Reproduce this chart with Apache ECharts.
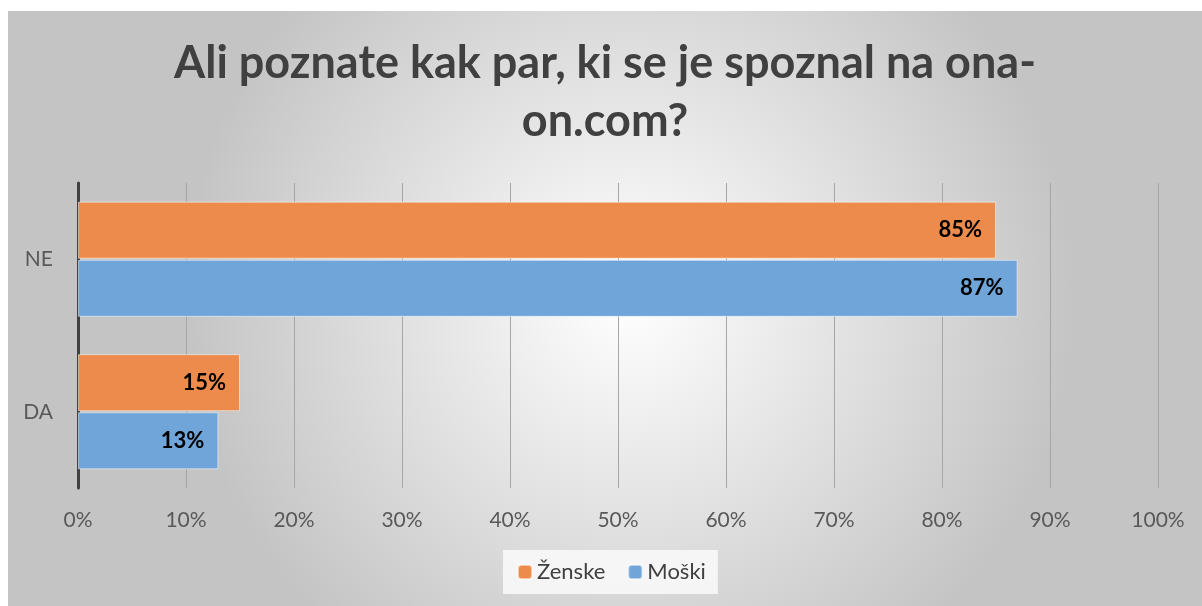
<!DOCTYPE html>
<html>
<head>
<meta charset="utf-8">
<script src="https://cdn.jsdelivr.net/npm/echarts@6/dist/echarts.min.js"></script>
<style>
    html, body { margin: 0; padding: 0; background: #fff; }
    #echart_box { position: absolute; left: 8px; top: 11px; width: 1194px; height: 595px; }
</style>
</head>
<body>
<div id="echart_box"></div>
<script>
let categories = ['NE', 'DA']
let zenske = [85, 15]
let moski = [87, 13]
let xTicks = [0, 10, 20, 30, 40, 50, 60, 70, 80, 90, 100]

let font = 'Lato, "Open Sans", sans-serif'
let myChart = echarts.init(document.getElementById('echart_box'))
let option = {
    backgroundColor: new echarts.graphic.RadialGradient(0.52, 0.48, 0.75, [
        { offset: 0, color: '#ffffff' },
        { offset: 1, color: '#c4c4c4' }
    ]),
    textStyle: { fontFamily: font },
    title: {
        text: 'Ali poznate kak par, ki se je spoznal na ona-\non.com?',
        left: 'center',
        top: 18,
        textStyle: {
            fontFamily: font,
            fontSize: 45,
            fontWeight: 'bold',
            color: '#404040',
            lineHeight: 58
        }
    },
    legend: {
        bottom: 12,
        left: 495,
        itemWidth: 14,
        itemHeight: 14,
        itemGap: 22,
        padding: [11, 12, 11, 14],
        backgroundColor: 'rgba(250,250,250,0.85)',
        textStyle: { fontSize: 22, color: '#404040', fontFamily: font },
        data: ['Ženske', 'Moški']
    },
    grid: {
        left: 70,
        right: 44,
        top: 172,
        bottom: 118
    },
    xAxis: {
        type: 'value',
        min: 0,
        max: 100,
        interval: 10,
        axisLine: { show: false },
        axisTick: { show: false },
        axisLabel: {
            formatter: function (value) {
                return xTicks.indexOf(value) >= 0 ? value + '%' : ''
            },
            fontSize: 21,
            color: '#595959',
            margin: 22
        },
        splitLine: {
            show: true,
            lineStyle: { color: '#a6a6a6', width: 1 }
        }
    },
    yAxis: {
        type: 'category',
        inverse: true,
        data: categories,
        axisLine: {
            show: true,
            lineStyle: { color: '#404040', width: 3 }
        },
        axisTick: { show: false },
        axisLabel: { fontSize: 21, color: '#595959', margin: 25 }
    },
    series: [
        {
            name: 'Ženske',
            type: 'bar',
            data: zenske,
            barWidth: 57,
            barGap: '2%',
            itemStyle: {
                color: '#ed8b4c',
                borderColor: 'rgba(255,255,255,0.5)',
                borderWidth: 1
            },
            label: {
                show: true,
                position: 'insideRight',
                distance: 14,
                formatter: '{c}%',
                fontSize: 22,
                fontWeight: 'bold',
                color: '#000'
            }
        },
        {
            name: 'Moški',
            type: 'bar',
            data: moski,
            barWidth: 57,
            itemStyle: {
                color: '#6fa5d8',
                borderColor: 'rgba(255,255,255,0.5)',
                borderWidth: 1
            },
            label: {
                show: true,
                position: 'insideRight',
                distance: 14,
                formatter: '{c}%',
                fontSize: 22,
                fontWeight: 'bold',
                color: '#000'
            }
        }
    ]
}
myChart.setOption(option)
</script>
</body>
</html>
